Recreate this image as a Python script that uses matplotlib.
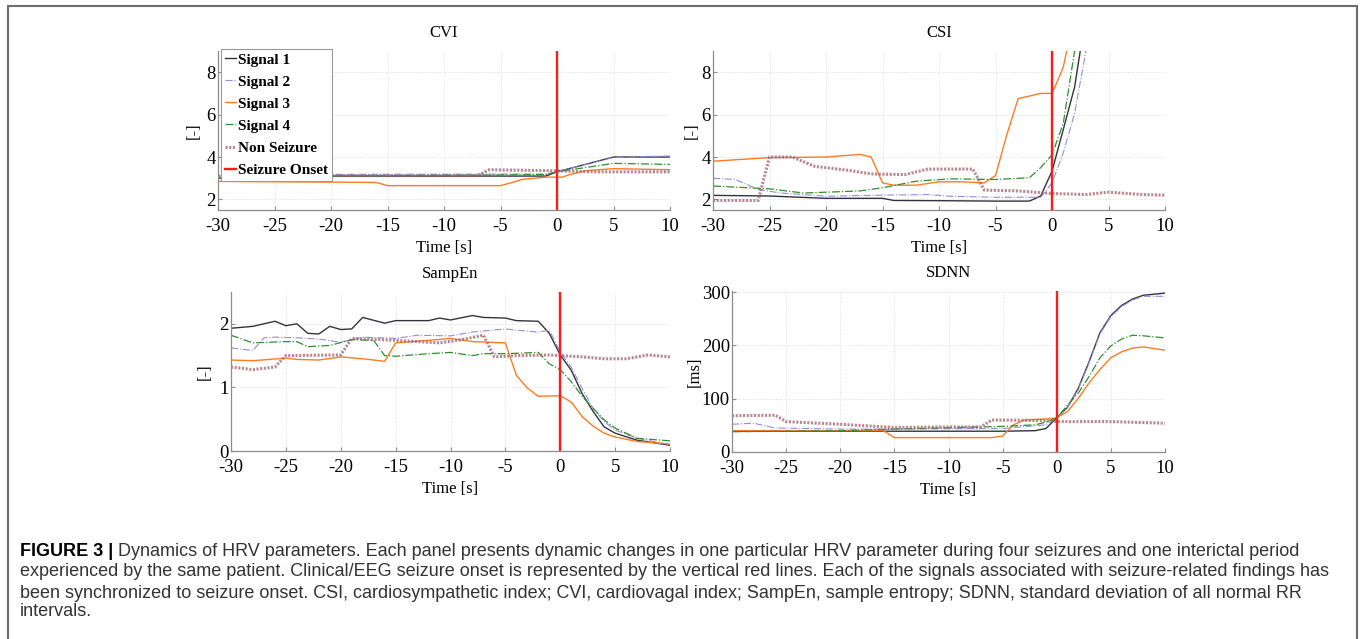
import matplotlib
matplotlib.use("Agg")
import matplotlib.pyplot as plt
from matplotlib.patches import Rectangle

# time in seconds relative to seizure onset
cvi_sig1 = [(-30, 3.0), (-20, 3.1), (-1, 3.1), (0, 3.3), (5, 4.0), (10, 4.0)]
cvi_sig2 = [(-30, 3.1), (-20, 3.18), (-1, 3.2), (0, 3.3), (5, 3.98), (10, 4.05)]
cvi_sig3 = [(-30, 2.85), (-16, 2.8), (-15, 2.65), (-5, 2.65), (-4.5, 2.72), (-3, 2.95),
            (-1, 3.05), (0.5, 3.05), (1, 3.15), (2.5, 3.35), (5, 3.45), (10, 3.4)]
cvi_sig4 = [(-30, 3.0), (-20, 3.1), (-1, 3.17), (0, 3.3), (5, 3.7), (10, 3.65)]
cvi_non = [(-30, 3.1), (-20, 3.12), (-7, 3.12), (-6, 3.4), (0, 3.35), (3, 3.3), (10, 3.3)]

csi_sig1 = [(-30, 2.19), (-25, 2.16), (-20, 2.05), (-15, 2.05), (-14, 1.95), (-10, 1.94),
            (-5, 1.92), (-2, 1.92), (-1, 2.16), (0, 3.33), (1, 5.3), (2, 7.3), (2.5, 9.0), (3, 11.0)]
csi_sig2 = [(-30, 3.0), (-28, 2.94), (-26, 2.47), (-24, 2.3), (-20, 2.15), (-15, 2.2),
            (-11, 2.23), (-9, 2.15), (-5, 2.1), (-1, 2.1), (0, 2.78), (1, 4.2), (2, 6.06),
            (3, 9.0), (3.5, 11.0)]
csi_sig3 = [(-30, 3.8), (-28, 3.87), (-25, 3.97), (-20, 4.0), (-17, 4.12), (-16, 4.0),
            (-15, 2.78), (-14, 2.67), (-12, 2.67), (-10, 2.83), (-8, 2.83), (-6, 2.78),
            (-5, 3.12), (-4, 5.05), (-3, 6.75), (-1, 7.0), (0, 7.0), (0.5, 7.6), (1, 8.25),
            (1.3, 9.0), (2, 11.0)]
csi_sig4 = [(-30, 2.63), (-25, 2.5), (-22, 2.3), (-17, 2.4), (-15, 2.55), (-12, 2.86),
            (-9, 2.97), (-5, 2.94), (-2, 3.02), (-1, 3.5), (0, 4.1), (1, 5.6), (2, 9.0),
            (2.5, 11.0)]
csi_non = [(-30, 1.95), (-26, 1.95), (-25, 4.0), (-23, 4.0), (-21, 3.56), (-18, 3.37),
           (-16, 3.2), (-13, 3.17), (-11, 3.43), (-7, 3.43), (-6, 2.44), (-3, 2.4),
           (0, 2.28), (3, 2.23), (5, 2.34), (8, 2.23), (10, 2.2)]

sampen_sig1 = [(-30, 1.93), (-28, 1.96), (-26, 2.04), (-25, 1.97), (-24, 2.0), (-23, 1.85),
               (-22, 1.84), (-21, 1.96), (-20, 1.91), (-19, 1.92), (-18, 2.1), (-16, 2.01),
               (-15, 2.05), (-12, 2.05), (-11, 2.09), (-10, 2.06), (-8, 2.13), (-7, 2.1),
               (-5, 2.09), (-4, 2.05), (-2, 2.04), (-1, 1.85), (0, 1.51), (1, 1.27),
               (2, 0.9), (3, 0.62), (4, 0.38), (5, 0.28), (7, 0.17), (10, 0.09)]
sampen_sig2 = [(-30, 1.62), (-28, 1.58), (-27, 1.78), (-26, 1.79), (-24, 1.78), (-22, 1.76),
               (-20, 1.71), (-18, 1.79), (-15, 1.77), (-13, 1.82), (-10, 1.81), (-8, 1.87),
               (-5, 1.92), (-4, 1.9), (-2, 1.87), (-1, 1.9), (0, 1.56), (1, 1.32),
               (2, 0.98), (3, 0.67), (4, 0.46), (5, 0.33), (7, 0.2), (10, 0.1)]
sampen_sig3 = [(-30, 1.43), (-28, 1.42), (-25, 1.46), (-24, 1.44), (-22, 1.43), (-20, 1.48),
               (-18, 1.45), (-16, 1.41), (-15, 1.7), (-12, 1.74), (-10, 1.77), (-8, 1.72),
               (-5, 1.7), (-4, 1.19), (-3, 0.99), (-2, 0.86), (0, 0.87), (1, 0.77),
               (2, 0.54), (3, 0.39), (4, 0.28), (5, 0.22), (7, 0.15), (10, 0.11)]
sampen_sig4 = [(-30, 1.82), (-28, 1.7), (-25, 1.72), (-24, 1.72), (-23, 1.64), (-21, 1.66),
               (-19, 1.75), (-17, 1.74), (-16, 1.5), (-15, 1.49), (-12, 1.53), (-10, 1.55),
               (-8, 1.5), (-7, 1.53), (-5, 1.53), (-2, 1.55), (-1, 1.37), (0, 1.28),
               (1, 1.09), (2, 0.86), (3, 0.67), (4, 0.49), (5, 0.36), (7, 0.2), (10, 0.16)]
sampen_non = [(-30, 1.32), (-28, 1.28), (-26, 1.32), (-25, 1.5), (-20, 1.51), (-19, 1.77),
              (-15, 1.74), (-11, 1.7), (-9, 1.75), (-7, 1.82), (-6, 1.48), (-4, 1.5),
              (-1, 1.51), (0, 1.5), (2, 1.48), (4, 1.45), (6, 1.45), (8, 1.51), (10, 1.48)]

sdnn_sig1 = [(-30, 39), (-15, 39), (-5, 39), (-2, 40), (-1, 44), (0, 64), (1, 84), (2, 120),
             (3, 170), (4, 224), (5, 256), (6, 275), (7, 287), (8, 294), (10, 298)]
sdnn_sig2 = [(-30, 52), (-28, 54), (-26, 45), (-20, 43), (-15, 43), (-5, 44), (-1, 51),
             (0, 64), (1, 84), (2, 118), (3, 168), (4, 222), (5, 254), (6, 273), (7, 285),
             (8, 292), (10, 292)]
sdnn_sig3 = [(-30, 40), (-16, 40), (-15, 27), (-10, 27), (-6, 27), (-5, 30), (-4, 51),
             (-3, 60), (-1, 62), (0, 64), (1, 76), (2, 101), (3, 130), (4, 155), (5, 177),
             (6, 188), (7, 195), (8, 197), (10, 191)]
sdnn_sig4 = [(-30, 38), (-20, 40), (-15, 43), (-5, 48), (-2, 51), (-1, 56), (0, 64), (1, 88),
             (2, 111), (3, 142), (4, 177), (5, 199), (6, 212), (7, 219), (8, 218), (10, 214)]
sdnn_non = [(-30, 68), (-26, 69), (-25, 57), (-20, 52), (-15, 46), (-10, 47), (-7, 47),
            (-6, 60), (-1, 59), (0, 57), (5, 57), (10, 54)]

labels = ["Signal 1", "Signal 2", "Signal 3", "Signal 4", "Non Seizure", "Seizure Onset"]
xticks = [-30, -25, -20, -15, -10, -5, 0, 5, 10]

styles = [
    dict(color="#33333d", ls="-", lw=1.0),
    dict(color="#8f8fdc", ls="-.", lw=0.8),
    dict(color="#ff7b22", ls="-", lw=1.0),
    dict(color="#2f8f2f", ls="-.", lw=0.9),
    dict(color="#a0606e", ls=(0, (0.7, 0.5)), lw=2.2, alpha=0.75),
]

plt.rcParams["font.family"] = ["Liberation Serif", "DejaVu Serif"]
plt.rcParams["axes.unicode_minus"] = False

fig = plt.figure(figsize=(13.6, 6.39), dpi=100)

W, H = 1360, 639


def make_axes(left, right, top, bottom):
    return fig.add_axes([left / W, 1 - bottom / H, (right - left) / W, (bottom - top) / H])


panels = [
    ("CVI", make_axes(218, 670, 51, 210), [cvi_sig1, cvi_sig2, cvi_sig3, cvi_sig4, cvi_non],
     (1.5, 9.0), [2, 4, 6, 8], "[-]", -16),
    ("CSI", make_axes(713, 1165, 51, 210), [csi_sig1, csi_sig2, csi_sig3, csi_sig4, csi_non],
     (1.5, 9.0), [2, 4, 6, 8], "[-]", -13),
    ("SampEn", make_axes(231, 670, 292, 451),
     [sampen_sig1, sampen_sig2, sampen_sig3, sampen_sig4, sampen_non],
     (0, 2.5), [0, 1, 2], "[-]", -18),
    ("SDNN", make_axes(732, 1165, 291, 452),
     [sdnn_sig1, sdnn_sig2, sdnn_sig3, sdnn_sig4, sdnn_non],
     (0, 302), [0, 100, 200, 300], "[ms]", -29),
]

for title, ax, series, ylim, yticks, ylab, ylab_off in panels:
    for pts, st, lab in zip(series, styles, labels):
        t = [p[0] for p in pts]
        v = [p[1] for p in pts]
        ax.plot(t, v, label=lab, **st)
    ax.axvline(0, color="#ff1a1a", lw=1.7, label=labels[5])
    ax.set_xlim(-30, 10)
    ax.set_ylim(*ylim)
    ax.set_xticks(xticks)
    ax.set_yticks(yticks)
    ax.grid(True, color="#dedede", ls=":", lw=0.7)
    ax.set_axisbelow(True)
    for s in ("top", "right"):
        ax.spines[s].set_visible(False)
    for s in ("left", "bottom"):
        ax.spines[s].set_color("#8c8c8c")
        ax.spines[s].set_linewidth(0.9)
    ax.tick_params(axis="both", direction="in", length=3, color="#8c8c8c", labelsize=13.5)
    ax.tick_params(axis="x", pad=6)
    ax.tick_params(axis="y", pad=1.5)
    ax.set_title(title, fontsize=12, pad=10)
    ax.set_xlabel("Time [s]", fontsize=12)
    ax.xaxis.set_label_coords(0.5, -30 / 159)
    ax.set_ylabel(ylab, fontsize=12)
    bb = ax.get_position()
    ax.yaxis.set_label_coords(ylab_off / (bb.width * W), 0.5)

cvi_ax = panels[0][1]
leg = cvi_ax.legend(loc="upper left", bbox_to_anchor=(3 / 452, 1 + 2 / 159),
                    prop=dict(family="Liberation Serif", weight="bold", size=11),
                    handlelength=0.7, handletextpad=0.15, labelspacing=0.55,
                    borderpad=0.25, borderaxespad=0, fancybox=False, framealpha=1,
                    edgecolor="#9a9a9a")
leg.get_frame().set_linewidth(0.8)

# outer frame around the figure
fig.patches.append(Rectangle((8 / W, -0.02), (1357 - 8) / W, 1.02 - 6 / H,
                             transform=fig.transFigure, fill=False,
                             edgecolor="#6e6e6e", lw=1.5))

# caption
cap_font = dict(family=["Liberation Sans", "DejaVu Sans"], fontsize=13)
cap_lines = [
    " Dynamics of HRV parameters. Each panel presents dynamic changes in one particular "
    "HRV parameter during four seizures and one interictal period",
    "experienced by the same patient. Clinical/EEG seizure onset is represented by the "
    "vertical red lines. Each of the signals associated with seizure-related findings has",
    "been synchronized to seizure onset. CSI, cardiosympathetic index; CVI, cardiovagal "
    "index; SampEn, sample entropy; SDNN, standard deviation of all normal RR",
    "intervals.",
]
cap_y = [552, 572, 593, 612]

head = fig.text(20 / W, 1 - cap_y[0] / H, "FIGURE 3 |", fontweight="bold", color="black",
                va="center", ha="left", **cap_font)
renderer = fig.canvas.get_renderer()
hx = head.get_window_extent(renderer).x1
fig.text(hx / W, 1 - cap_y[0] / H, cap_lines[0], color="#333333", va="center", ha="left",
         **cap_font)
for line, y in zip(cap_lines[1:], cap_y[1:]):
    fig.text(20 / W, 1 - y / H, line, color="#333333", va="center", ha="left", **cap_font)

fig.savefig("out.png", dpi=100)
